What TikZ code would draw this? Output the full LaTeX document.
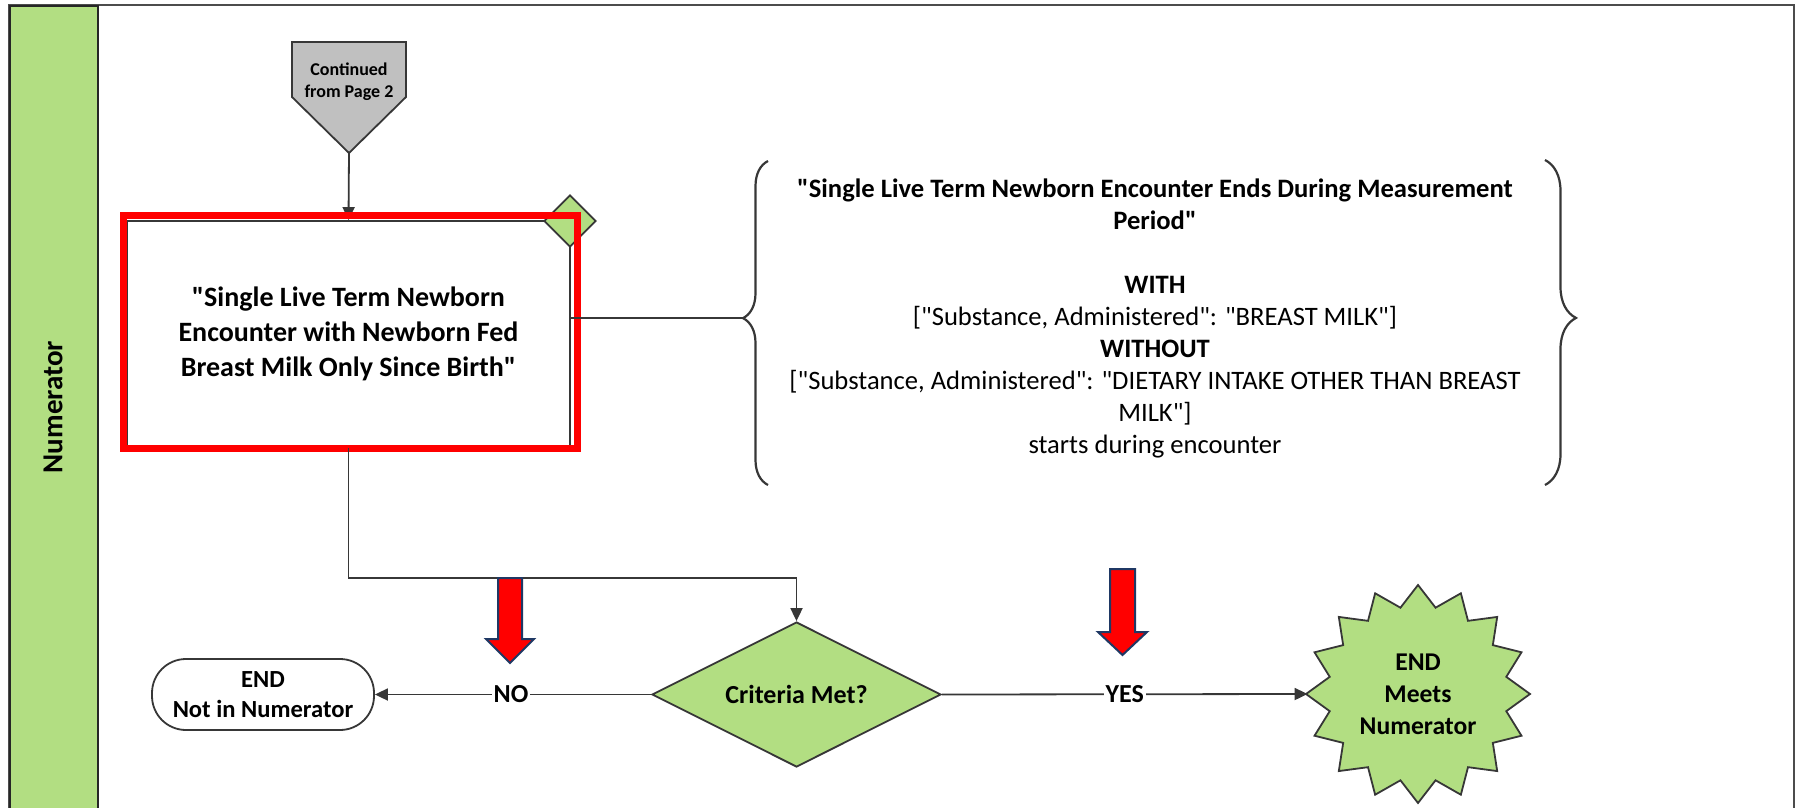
\documentclass[tikz,border=0pt]{standalone}
\usepackage{fontspec}
\setmainfont{Carlito}[Ligatures=TeXOff]
\usetikzlibrary{shapes.geometric,arrows.meta,decorations.pathreplacing,calc}
\definecolor{lanegreen}{RGB}{178,222,130}
\definecolor{congray}{RGB}{192,192,192}
\definecolor{linegray}{RGB}{55,55,55}
\definecolor{arrowblue}{RGB}{31,56,100}
\begin{document}
\begin{tikzpicture}[x=0.5pt,y=-0.5pt,
  line/.style={draw=linegray, line width=0.9pt},
  conn/.style={line, -{Triangle[length=6.5pt,width=6pt]}},
  bracestyle/.style={draw=linegray, line width=1.1pt, decorate},
  greenfill/.style={draw=linegray, line width=0.9pt, fill=lanegreen},
  lbl/.style={fill=white, inner sep=1pt, font=\bfseries\fontsize{13}{15}\selectfont},
  redarrow/.style={fill=red, draw=arrowblue, line width=1pt, line join=miter}
]
\useasboundingbox (0,0) rectangle (1799,808);
\clip (0,0) rectangle (1799,808);

% outer border and lane
\draw[draw=black!70, line width=0.8pt] (9,840) -- (9,5) -- (1794,5) -- (1794,840);
\node[draw=black!85, line width=0.9pt, fill=lanegreen, minimum width=44pt, minimum height=420pt,
      anchor=north west, inner sep=0] (lane) at (9,5) {};
\node[rotate=90, font=\bfseries\fontsize{14.5}{17}\selectfont] (lanelabel) at (53,407) {Numerator};

% off-page connector
\draw[fill=congray, draw=linegray, line width=0.9pt]
  (292,42) -- (406,42) -- (406,97) -- (349,153) -- (292,97) -- cycle;
\node[align=center, font=\bfseries\fontsize{9}{11}\selectfont, inner sep=0] (cont) at (349,82)
  {Continued\\from Page 2};
\coordinate (conttip) at (349,153);

% main process box
\node[draw=linegray, line width=0.9pt, fill=white, minimum width=221.5pt, minimum height=113pt,
      inner sep=0, align=center, font=\bfseries\fontsize{14}{17.5}\selectfont] (box) at (348.5,334)
  {"Single Live Term Newborn\\Encounter with Newborn Fed\\Breast Milk Only Since Birth"};
\draw[conn] (conttip) -- (box.north);

% annotation diamond
\node[diamond, greenfill, minimum width=26pt, minimum height=26pt, inner sep=0] (ann) at (570,221) {};

% red highlight
\node[draw=red, line width=3.6pt, minimum width=227pt, minimum height=116.5pt, inner sep=0]
  (hl) at (350.5,332) {};

% braces and condition text
\coordinate (lbtip) at (743,318);
\draw[line] (lbtip -| box.east) -- (lbtip);
\draw[bracestyle, decoration={brace, amplitude=12.5pt, aspect=0.515}] (768,485) -- (768,161);
\draw[bracestyle, decoration={brace, amplitude=15.5pt, aspect=0.486}] (1545,160) -- (1545,485);
\node[align=center, font=\fontsize{13.3}{16}\selectfont, inner sep=0] (cond) at (1155,318)
  {\textbf{"Single Live Term Newborn Encounter Ends During Measurement}\\
   \textbf{Period"}\\
   \mbox{}\\
   \textbf{WITH}\\
   {[}"Substance, Administered": "BREAST MILK"]\\
   \textbf{WITHOUT}\\
   {[}"Substance, Administered": "DIETARY INTAKE OTHER THAN BREAST\\
   MILK"]\\
   starts during encounter};

% decision
\node[diamond, greenfill, aspect=2, minimum width=144.5pt, minimum height=72.5pt, inner sep=0,
      font=\bfseries\fontsize{13}{16}\selectfont] (crit) at (796.5,694.5) {Criteria Met?};
\coordinate (bend) at (348.5,578);
\draw[conn] (box.south) -- (bend) -| (crit.north);

% terminal
\node[draw=linegray, line width=0.9pt, fill=white, rounded corners=17pt, minimum width=111pt,
      minimum height=35.5pt, inner sep=0, align=center,
      font=\bfseries\fontsize{12.3}{15}\selectfont] (term) at (263,694.5) {END\\Not in Numerator};
\draw[conn] (crit.west) -- node[lbl, pos=0.507] (nolbl) {NO} (term.east);

% starburst end
\draw[greenfill, line join=miter]
  plot[samples at={0,...,31}, variable=\k]
  ({1418+(mod(\k,2)==0 ? 112 : 90)*cos(90+\k*11.25)}, {694-(mod(\k,2)==0 ? 109 : 88)*sin(90+\k*11.25)}) -- cycle;
\node[circle, minimum size=110pt, inner sep=0, align=center,
      font=\bfseries\fontsize{12.8}{16}\selectfont] (burst) at (1418,694) {END\\Meets\\Numerator};
\draw[conn] (crit.east) -- node[lbl, pos=0.5] (yeslbl) {YES} (burst.west);

% red pointer arrows
\draw[redarrow] (498,578) -- (522,578) -- (522,639) -- (534,639) -- (510,663) -- (486,639) -- (498,639) -- cycle;
\draw[redarrow] (1110,569) -- (1135,569) -- (1135,632) -- (1147,632) -- (1122.5,655) -- (1098,632) -- (1110,632) -- cycle;
\end{tikzpicture}
\end{document}
